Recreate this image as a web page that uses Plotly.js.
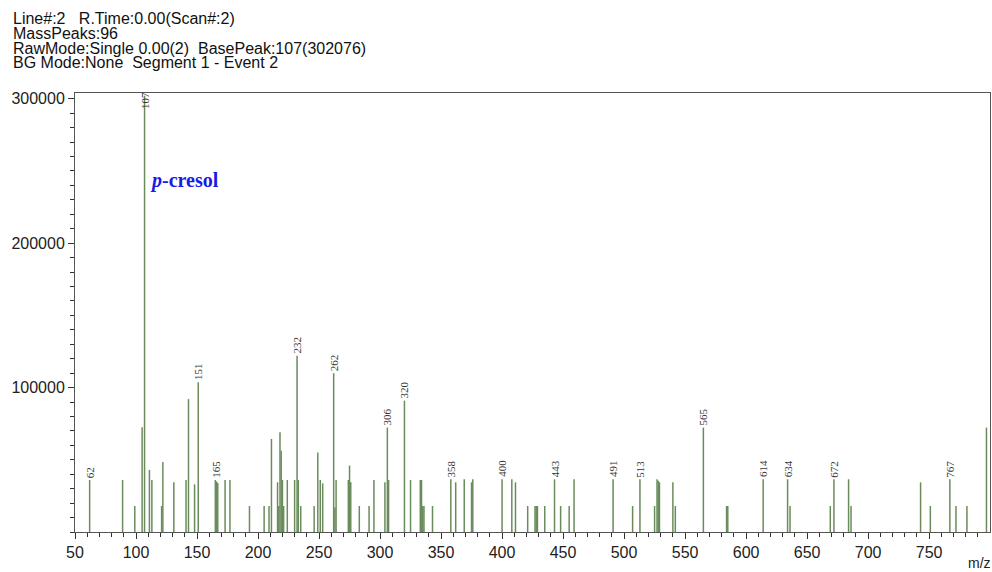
<!DOCTYPE html>
<html>
<head>
<meta charset="utf-8">
<script src="https://cdn.plot.ly/plotly-3.0.1.min.js"></script>
<style>html,body{margin:0;padding:0;background:#fff;}#chart{width:992px;height:572px;}</style>
</head>
<body>
<div id="chart"></div>
<script>
// m/z values of the peaks
const mz = [62, 89, 99, 105, 107, 111, 113, 121, 122, 131, 141, 143, 148, 151, 165, 166, 167, 173, 177, 193,
  205, 209, 211, 216, 217, 218, 219, 220, 221, 224, 230, 232, 233, 235, 246, 249, 251, 253, 262, 263,
  264, 274, 275, 276, 283, 291, 295, 304, 306, 307, 320, 325, 333, 334, 335, 336, 343, 358, 362, 369,
  375, 376, 400, 408, 411, 421, 427, 428, 429, 435, 443, 448, 455, 459, 491, 507, 513, 525, 527, 528,
  529, 540, 542, 565, 584, 585, 614, 634, 636, 669, 672, 684, 686, 743, 751, 767, 772, 781, 797];
// intensities of the peaks
const intensity = [36000, 36000, 18000, 72500, 302076, 43000, 36000, 18000, 48500, 34400, 36000, 92000, 33000, 103700, 36000, 35000, 34000, 36000, 36000, 18000,
  18000, 18000, 64400, 34400, 18000, 69100, 56300, 36000, 18000, 36000, 36000, 122000, 36000, 18000, 18000, 55000, 36000, 33700, 110000, 17000,
  36000, 36000, 46000, 34400, 18000, 18000, 36000, 34400, 72300, 36000, 91000, 36000, 36000, 36000, 18000, 18000, 18000, 36500, 34400, 36500,
  34400, 36500, 36500, 36500, 34400, 18000, 18000, 18000, 18000, 18000, 36500, 18000, 18000, 36500, 36500, 18000, 36500, 18000, 36500, 35500,
  34400, 34400, 18000, 72300, 18000, 18000, 36500, 36500, 18000, 18000, 36500, 36500, 18000, 34400, 18000, 36500, 18000, 18000, 72300];
// peaks that carry an m/z label
const labeledPeaks = [62, 107, 151, 165, 232, 262, 306, 320, 358, 400, 443, 491, 513, 565, 614, 634, 672, 767];
// header lines
const headerLines = [
  "Line#:2   R.Time:0.00(Scan#:2)",
  "MassPeaks:96",
  "RawMode:Single 0.00(2)  BasePeak:107(302076)",
  "BG Mode:None  Segment 1 - Event 2"
];
const xTickVals = [50, 100, 150, 200, 250, 300, 350, 400, 450, 500, 550, 600, 650, 700, 750];
const yTickVals = [100000, 200000, 300000];

const YMAX = 304000;
const xs = [], ys = [];
for (let i = 0; i < mz.length; i++) {
  xs.push(mz[i], mz[i], null);
  ys.push(0, intensity[i], null);
}

const trace = {
  type: 'scatter', mode: 'lines', x: xs, y: ys,
  line: {color: '#6a8c5c', width: 1.5}, hoverinfo: 'skip', cliponaxis: true
};

const annotations = [];
labeledPeaks.forEach(p => {
  const idx = mz.indexOf(p);
  const v = intensity[idx];
  const top = v > YMAX * 0.95;
  annotations.push({
    x: p, y: top ? YMAX : v, xref: 'x', yref: 'y',
    text: String(p), showarrow: false, textangle: -90,
    xanchor: 'center', yanchor: top ? 'top' : 'bottom', yshift: top ? 3 : 0,
    font: {family: 'Liberation Serif, serif', size: 11, color: '#333'}
  });
});
annotations.push({
  x: 109.5, y: 243200, xref: 'x', yref: 'y', xanchor: 'left', yanchor: 'middle',
  text: '<b><i>p</i>-cresol</b>', showarrow: false,
  font: {family: 'Liberation Serif, serif', size: 20, color: '#1a1ae6'}
});
const headerY = [1.1693, 1.1349, 1.1014, 1.0688];
headerLines.forEach((t, i) => {
  annotations.push({
    x: -0.0703, y: headerY[i], xref: 'paper', yref: 'paper', xanchor: 'left', yanchor: 'middle',
    text: t, showarrow: false,
    font: {family: 'Liberation Sans, Arial, sans-serif', size: 16, color: '#111'}
  });
});
annotations.push({
  x: 0.989, y: -0.070, xref: 'paper', yref: 'paper', xanchor: 'center', yanchor: 'middle',
  text: 'm/z', showarrow: false,
  font: {family: 'Liberation Sans, Arial, sans-serif', size: 14, color: '#222'}
});

const layout = {
  width: 992, height: 572,
  margin: {l: 75, r: 2, t: 93, b: 40},
  paper_bgcolor: '#fff', plot_bgcolor: '#fff',
  showlegend: false,
  font: {family: 'Liberation Sans, Arial, sans-serif', size: 16, color: '#222'},
  xaxis: {
    range: [50, 799.9], tickmode: 'array', tickvals: xTickVals,
    ticks: 'outside', ticklen: 6, tickwidth: 1, tickcolor: '#333',
    minor: {dtick: 10, tick0: 50, ticks: 'outside', ticklen: 4, tickcolor: '#333', showgrid: false},
    showline: true, linecolor: '#555', linewidth: 1, mirror: true,
    showgrid: false, zeroline: false,
    tickfont: {family: 'Liberation Sans, Arial, sans-serif', size: 16, color: '#222'}
  },
  yaxis: {
    range: [0, YMAX], tickmode: 'array', tickvals: yTickVals, tickformat: 'd',
    ticks: 'outside', ticklen: 6, tickwidth: 1, tickcolor: '#333',
    minor: {dtick: 10000, tick0: 0, ticks: 'outside', ticklen: 4, tickcolor: '#333', showgrid: false},
    showline: true, linecolor: '#555', linewidth: 1, mirror: true,
    showgrid: false, zeroline: false,
    tickfont: {family: 'Liberation Sans, Arial, sans-serif', size: 16, color: '#222'}
  },
  annotations: annotations
};

Plotly.newPlot('chart', [trace], layout, {displayModeBar: false, staticPlot: true});
</script>
</body>
</html>
